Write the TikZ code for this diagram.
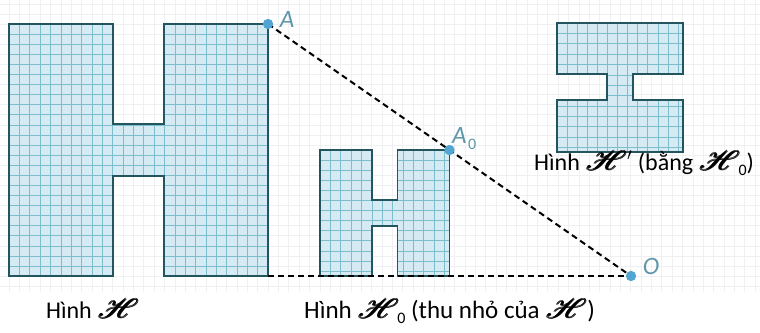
\documentclass[tikz,border=0pt]{standalone}
\usepackage{fontspec}
\setmainfont{Carlito}
\usepackage{amsmath}
\usepackage{graphicx}
\usepackage{mathrsfs}
\definecolor{fillc}{RGB}{214,234,244}
\definecolor{gridc}{RGB}{125,190,205}
\definecolor{edgec}{RGB}{35,85,95}
\definecolor{dotc}{RGB}{80,165,210}
\definecolor{labc}{RGB}{95,150,170}
\definecolor{bgc}{RGB}{238,240,242}
\newcommand{\HHg}{\scalebox{1.55}[1.3]{\fontsize{21}{21}\selectfont$\mathscr{H}$}}
\newcommand{\HH}{\mbox{\rlap{\HHg}\rlap{\raisebox{0.6pt}{\kern0.6pt\HHg}}\kern1.2pt\HHg}}
\newcommand{\subz}{\kern-2pt\raisebox{-0.5ex}{\fontsize{16}{16}\selectfont 0}}
\newcommand{\subzA}{\kern1.5pt\raisebox{-0.5ex}{\fontsize{16}{16}\selectfont\upshape 0}}
\tikzset{
  shapefill/.style={fill=fillc},
  shapeedge/.style={draw=edgec,line width=1.5pt,line join=miter},
  gridl/.style={gridc,line width=0.5pt},
  bgl/.style={bgc,line width=0.5pt},
  dashln/.style={black,line width=2pt,dash pattern=on 6pt off 4pt},
  dot/.style={circle,fill=dotc,minimum size=10pt,inner sep=0pt},
  ptlab/.style={text=labc,font=\fontsize{25}{27}\selectfont\itshape,inner sep=0pt},
  caption/.style={inner sep=0pt}
}
\begin{document}
\begin{tikzpicture}[x=1pt,y=-1pt]
\useasboundingbox (0,0) rectangle (760,332);
% faint background grid
\foreach \i in {0,...,73} \draw[bgl] ({-1.36+\i*10.36},0) -- ({-1.36+\i*10.36},292);
\foreach \j in {0,...,28} \draw[bgl] (0,{3.84+\j*10.08}) -- (760,{3.84+\j*10.08});
% big H
\def\bigH{(9,24) -- (113,24) -- (113,124) -- (164,124) -- (164,24) -- (268,24) -- (268,276) -- (164,276) -- (164,176) -- (113,176) -- (113,276) -- (9,276) -- cycle}
\fill[shapefill] \bigH;
\begin{scope}
\clip \bigH;
\foreach \i in {0,...,25} \draw[gridl] ({9+\i*10.36},24) -- ({9+\i*10.36},276);
\foreach \j in {0,...,25} \draw[gridl] (9,{24+\j*10.08}) -- (268,{24+\j*10.08});
\end{scope}
\draw[shapeedge] \bigH;
% H0
\def\smallH{(320,150) -- (372,150) -- (372,200) -- (397.5,200) -- (397.5,150) -- (449.5,150) -- (449.5,276) -- (397.5,276) -- (397.5,226) -- (372,226) -- (372,276) -- (320,276) -- cycle}
\fill[shapefill] \smallH;
\begin{scope}
\clip \smallH;
\foreach \i in {0,...,13} \draw[gridl] ({320+\i*10.36},150) -- ({320+\i*10.36},276);
\foreach \j in {0,...,13} \draw[gridl] (320,{150+\j*10.08}) -- (449.5,{150+\j*10.08});
\end{scope}
\draw[shapeedge] \smallH;
% H' (rotated)
\def\rotH{(557,23) -- (683,23) -- (683,74) -- (633,74) -- (633,100) -- (683,100) -- (683,152) -- (557,152) -- (557,100) -- (607,100) -- (607,74) -- (557,74) -- cycle}
\fill[shapefill] \rotH;
\begin{scope}
\clip \rotH;
\foreach \i in {0,...,13} \draw[gridl] ({557+\i*10.08},23) -- ({557+\i*10.08},152);
\foreach \j in {0,...,13} \draw[gridl] (557,{23+\j*10.36}) -- (683,{23+\j*10.36});
\end{scope}
\draw[shapeedge] \rotH;
% points
\coordinate (B) at (268,276);
\node[dot] (A) at (268,24) {};
\node[dot] (A0) at (449.5,150) {};
\node[dot] (O) at (631,276) {};
\draw[dashln] (A.center) -- (O.center);
\draw[dashln] (B) -- (O.center);
\node[dot] at (A) {};
\node[dot] at (A0) {};
\node[dot] at (O) {};
\node[ptlab] (lA) at (287,19) {A};
\node[ptlab,anchor=base west] (lA0) at (452,143) {A\subzA};
\node[ptlab] (lO) at (651,266) {O};
% captions
\node[caption,font=\fontsize{24}{28}\selectfont,anchor=base west] (c1) at (46,318) {Hình \HH};
\node[caption,font=\fontsize{25}{29}\selectfont,anchor=base west] (c2) at (304,318) {Hình \HH\subz\ (thu nhỏ của \HH)};
\node[caption,font=\fontsize{24}{28}\selectfont,anchor=base west] (c3) at (534,170) {Hình \HH$'$ (bằng \HH\subz)};
\end{tikzpicture}
\end{document}
